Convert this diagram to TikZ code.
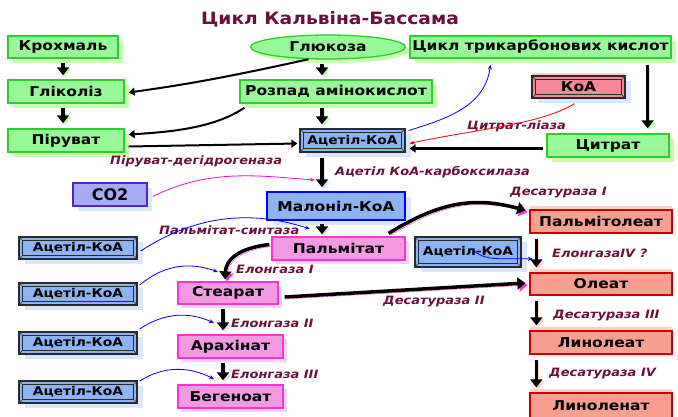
\documentclass[tikz,border=0pt]{standalone}
\usepackage{fontspec}
\setmainfont{DejaVu Sans}
\newfontfamily\bxfont[FakeStretch=1.15]{DejaVu Sans}
\newfontfamily\lbfont[FakeStretch=1.13]{DejaVu Sans}
\newfontfamily\ttlfont[FakeStretch=1.10]{DejaVu Sans}
\usetikzlibrary{arrows.meta,shadows,shapes.geometric}
\definecolor{gfill}{HTML}{98F898}
\definecolor{gdraw}{HTML}{2ECC2E}
\definecolor{gshad}{HTML}{C8FAB0}
\definecolor{bfill}{HTML}{8DB4F2}
\definecolor{bshad}{HTML}{DCE6FA}
\definecolor{bevdark}{HTML}{2A2A2A}
\definecolor{pfill}{HTML}{F29AE2}
\definecolor{pdraw}{HTML}{FF33CC}
\definecolor{pshad}{HTML}{FBD2F2}
\definecolor{sfill}{HTML}{F8A090}
\definecolor{sdraw}{HTML}{CC0000}
\definecolor{sshad}{HTML}{FDD0C8}
\definecolor{kfill}{HTML}{F58896}
\definecolor{cfill}{HTML}{A6AAF2}
\definecolor{cdraw}{HTML}{5522CC}
\definecolor{lblc}{HTML}{6B0F3C}
\definecolor{mblue}{HTML}{0000FF}
\definecolor{magl}{HTML}{E010D0}
\tikzset{
  box/.style={rectangle, inner sep=0pt, font=\bxfont\bfseries\fontsize{13.5}{15}\selectfont, text=black},
  gbox/.style={box, fill=gfill, draw=gdraw, line width=1.3pt, drop shadow={shadow xshift=5pt, shadow yshift=-5pt, fill=gshad, opacity=1}},
  bevbox/.style={box, fill=#1, draw=bevdark, line width=1.3pt, font=\bxfont\bfseries\fontsize{12}{14}\selectfont, drop shadow={shadow xshift=6pt, shadow yshift=-5pt, fill=bshad, opacity=1}},
  pbox/.style={box, fill=pfill, draw=pdraw, line width=1.3pt, drop shadow={shadow xshift=4pt, shadow yshift=-4pt, fill=pshad, opacity=1}},
  sbox/.style={box, fill=sfill, draw=sdraw, line width=1.3pt, drop shadow={shadow xshift=0pt, shadow yshift=4pt, fill=sshad, opacity=1}},
  lbl/.style={inner sep=0pt, anchor=west, text=lblc, font=\lbfont\bfseries\itshape\fontsize{11.5}{13}\selectfont},
  bigarrow/.style={line width=3.5pt, -{Triangle[length=8pt,width=12pt]}},
  medarrow/.style={line width=2pt, -{Triangle[length=6pt,width=8pt]}},
  thin/.style={line width=0.8pt, -{Stealth[length=5pt,width=4pt]}},
  sh/.style={preaction={draw=#1, transform canvas={shift={(2pt,-2pt)}}}},
}
\begin{document}
\begin{tikzpicture}[x=1pt,y=-1pt]
\useasboundingbox (0,0) rectangle (678,416);
\fill[white] (0,0) rectangle (678,416);
% title
\node[inner sep=0pt, text=lblc, font=\ttlfont\bfseries\fontsize{17}{19}\selectfont] (title) at (330,19) {Цикл Кальвіна-Бассама};
% green boxes
\node[gbox, minimum width=110pt, minimum height=22pt] (krox) at (63,47) {Крохмаль};
\node[gbox, minimum width=116pt, minimum height=23pt] (glik) at (66,91.5) {Гліколіз};
\node[gbox, minimum width=116pt, minimum height=23pt] (piru) at (66,140.5) {Піруват};
\node[ellipse, inner sep=0pt, fill=gfill, draw=gdraw, line width=1.3pt, minimum width=155pt, minimum height=24pt, font=\bxfont\bfseries\fontsize{13.5}{15}\selectfont, drop shadow={shadow xshift=4pt, shadow yshift=-4pt, fill=gshad, opacity=1}] (gluk) at (328,47) {Глюкоза};
\node[gbox, minimum width=261pt, minimum height=22pt] (tca) at (540.5,47) {Цикл трикарбонових кислот};
\node[gbox, minimum width=192pt, minimum height=23pt] (rozp) at (336,91.5) {Розпад амінокислот};
\node[gbox, minimum width=122pt, minimum height=23pt] (citr) at (608,145.5) {Цитрат};
% bevel boxes
\node[bevbox=kfill, font=\bxfont\bfseries\fontsize{13.5}{15}\selectfont, minimum width=93pt, minimum height=22pt, drop shadow={shadow xshift=0pt, shadow yshift=3pt, fill=kfill!45, opacity=1}] (koa) at (578.5,87) {КоА};
\node[bevbox=bfill, minimum width=105pt, minimum height=23pt] (acC) at (352.5,140.5) {Ацетіл-КоА};
\node[bevbox=bfill, minimum width=118pt, minimum height=22pt] (acL1) at (78,248) {Ацетіл-КоА};
\node[bevbox=bfill, minimum width=118pt, minimum height=22pt] (acL2) at (78,294) {Ацетіл-КоА};
\node[bevbox=bfill, minimum width=118pt, minimum height=22pt] (acL3) at (78,343) {Ацетіл-КоА};
\node[bevbox=bfill, minimum width=118pt, minimum height=22pt] (acL4) at (78,392) {Ацетіл-КоА};
\node[bevbox=bfill, minimum width=106pt, minimum height=30pt] (acM) at (468,252) {Ацетіл-КоА};
\foreach \n in {koa,acC,acL1,acL2,acL3,acL4,acM}{
  \draw[bevdark, line width=0.8pt] ([shift={(4,4)}]\n.north west) rectangle ([shift={(-4,-4)}]\n.south east);
  \draw[bevdark, line width=0.6pt] (\n.north west) -- ([shift={(4,4)}]\n.north west)
    (\n.north east) -- ([shift={(-4,4)}]\n.north east)
    (\n.south west) -- ([shift={(4,-4)}]\n.south west)
    (\n.south east) -- ([shift={(-4,-4)}]\n.south east);
}
% blue / purple
\node[box, fill=bfill, draw=mblue, line width=1.5pt, minimum width=138pt, minimum height=28pt, drop shadow={shadow xshift=6pt, shadow yshift=-5pt, fill=bshad, opacity=1}] (malon) at (336,206) {Малоніл-КоА};
\node[box, fill=cfill, draw=cdraw, line width=1.5pt, minimum width=74pt, minimum height=23pt, font=\bfseries\fontsize{16}{18}\selectfont, drop shadow={shadow xshift=5pt, shadow yshift=-5pt, fill=bshad, opacity=1}] (co2) at (110,194.5) {CO2};
% pink
\node[pbox, minimum width=133pt, minimum height=23pt] (palm) at (338.5,248.5) {Пальмітат};
\node[pbox, minimum width=100pt, minimum height=22pt] (stear) at (228,293) {Стеарат};
\node[pbox, minimum width=105pt, minimum height=23pt] (arax) at (230.5,346.5) {Арахінат};
\node[pbox, minimum width=105pt, minimum height=23pt] (beg) at (230.5,396.5) {Бегеноат};
% salmon
\node[sbox, minimum width=142pt, minimum height=23pt] (pmol) at (601,221.5) {Пальмітолеат};
\node[sbox, minimum width=142pt, minimum height=22pt] (oleat) at (601,284) {Олеат};
\node[sbox, minimum width=142pt, minimum height=23pt] (linol) at (601,342.5) {Линолеат};
\node[sbox, minimum width=142pt, minimum height=25pt] (linlen) at (601,405.5) {Линоленат};
% labels
\node[lbl] (l1) at (110,161) {Піруват-дегідрогеназа};
\node[lbl] (l2) at (335,172) {Ацетіл КоА-карбоксилаза};
\node[lbl] (l3) at (467,126) {Цитрат-ліаза};
\node[lbl] (l4) at (510,193) {Десатураза I};
\node[lbl] (l5) at (159,230) {Пальмітат-синтаза};
\node[lbl] (l6) at (236,269) {Елонгаза I};
\node[lbl] (l7) at (552,253) {ЕлонгазаIV ?};
\node[lbl] (l8) at (383,302) {Десатураза II};
\node[lbl] (l9) at (231,323) {Елонгаза II};
\node[lbl] (l10) at (553,316) {Десатураза III};
\node[lbl] (l11) at (231,374) {Елонгаза III};
\node[lbl] (l12) at (549,374) {Десатураза IV};
% free ends of side connectors
\coordinate (co2end) at (315,180);
\coordinate (a1end) at (310,229);
\coordinate (a2end) at (218,272);
\coordinate (a3end) at (214,323);
\coordinate (a4end) at (214,379);
\coordinate (amend) at (533,259);
\coordinate (amst) at ([shift={(4,-3)}]acM.center);
% thick vertical arrows
\draw[bigarrow, sh=gshad] ([shift={(0,4)}]krox.south) -- ([shift={(0,-4)}]krox.south |- glik.north);
\draw[bigarrow, sh=gshad] ([shift={(-3,4)}]glik.south) -- ([shift={(-3,-5)}]glik.south |- piru.north);
\draw[bigarrow, sh=gshad] ([shift={(-6,4)}]gluk.south) -- ([shift={(-6,-4)}]gluk.south |- rozp.north);
\draw[bigarrow, sh=gshad] ([shift={(-14,4)}]rozp.south) -- ([shift={(-14,-4)}]rozp.south |- acC.north);
\draw[bigarrow, sh=gshad] ([shift={(-24,6)}]tca.south east) -- ([shift={(-22,-5)}]citr.north east);
\draw[bigarrow, sh=bshad] ([shift={(-30.5,5)}]acC.south) -- ([shift={(-14,-4)}]malon.north);
\draw[bigarrow, sh=bshad] ([shift={(-14,3)}]malon.south) -- ([shift={(-16.5,-2)}]palm.north);
\draw[bigarrow, sh=pshad] ([shift={(-5,4)}]stear.south) -- ([shift={(-7.5,-4)}]arax.north);
\draw[bigarrow, sh=pshad] ([shift={(-7.5,4)}]arax.south) -- ([shift={(-7.5,-4)}]beg.north);
\draw[bigarrow, sh=sshad] ([shift={(7,5)}]pmol.south west) -- ([shift={(7,-5)}]oleat.north west);
\draw[bigarrow, sh=sshad] ([shift={(7,5)}]oleat.south west) -- ([shift={(7,-5)}]linol.north west);
\draw[bigarrow, sh=sshad] ([shift={(7,5)}]linol.south west) -- ([shift={(7,-5)}]linlen.north west);
% horizontal / curved black
\draw[medarrow] (gluk.212) .. controls (215,80) and (175,86) .. ([shift={(4,1)}]glik.east);
\draw[medarrow] ([shift={(5,4)}]rozp.south west) .. controls (215,128) and (170,132) .. ([shift={(4,-6)}]piru.east);
\draw[medarrow] ([shift={(4,6)}]piru.east) -- ([shift={(-2,3)}]acC.west);
\draw[medarrow, line width=2.5pt] ([shift={(-3,3)}]citr.west) -- ([shift={(4,8)}]acC.east);
\draw[bigarrow, sh=pdraw] ([shift={(-2,-4)}]palm.west) .. controls (238,248) and (226,260) .. ([shift={(-3,-2)}]stear.north);
\draw[bigarrow, sh=pdraw] ([shift={(-17,-3)}]palm.north east) .. controls (435,205) and (470,195) .. ([shift={(-4,1)}]pmol.north west);
\draw[bigarrow, sh=pdraw] ([shift={(6,4)}]stear.east) -- ([shift={(-4,-1)}]oleat.west);
% thin coloured connectors
\draw[thin, mblue] ([shift={(3,-10)}]acC.east) .. controls (450,118) and (485,105) .. ([shift={(-50,6)}]tca.south);
\draw[thin, red] ([shift={(-4,5)}]koa.south) .. controls (540,125) and (470,130) .. ([shift={(4,3)}]acC.east);
\draw[thin, magl] ([shift={(5,2)}]co2.east) .. controls (210,168) and (260,176) .. (co2end);
\draw[thin, mblue] ([shift={(3,3)}]acL1.east) .. controls (185,222) and (240,206) .. (a1end);
\draw[thin, mblue] ([shift={(2,-9)}]acL2.east) .. controls (160,268) and (185,260) .. (a2end);
\draw[thin, mblue] ([shift={(2,-14)}]acL3.east) .. controls (165,312) and (190,312) .. (a3end);
\draw[thin, mblue] ([shift={(2,-11)}]acL4.east) .. controls (165,365) and (190,367) .. (a4end);
\draw[thin, mblue] (amst) .. controls (485,262) and (500,258) .. (amend);
\end{tikzpicture}
\end{document}
